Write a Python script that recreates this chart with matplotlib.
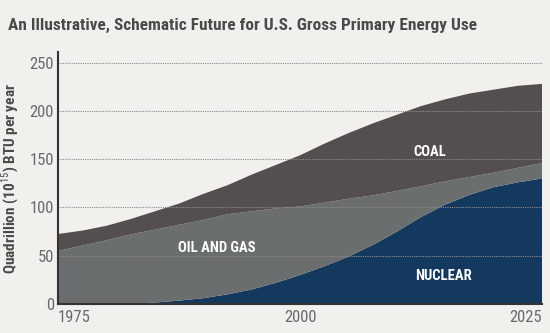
import matplotlib
matplotlib.use("Agg")
import matplotlib.pyplot as plt
from matplotlib import font_manager

years = [1975, 1977.5, 1980, 1982.5, 1985, 1987.5, 1990, 1992.5, 1995, 1997.5, 2000,
         2002.5, 2005, 2007.5, 2010, 2012.5, 2015, 2017.5, 2020, 2022.5, 2025]
nuclear = [0, 0, 0, 0, 1.5, 3.5, 6, 10, 15, 22, 30,
           39, 49, 61, 75, 90, 103, 113, 121, 126, 130]
oil_gas = [55, 60.5, 66, 72, 75.5, 78.5, 81, 83, 81, 77, 71,
           66, 60, 51.5, 42, 32, 24, 18.5, 15, 15, 16]
coal = [17.5, 15.5, 15, 16, 19, 22, 27, 30, 38, 45, 53,
        61, 68, 74.5, 79, 83, 85, 86.5, 86, 85, 82]

colors = ["#13395f", "#6b6e6e", "#544e50"]
y_ticks = [0, 50, 100, 150, 200, 250]
x_ticks = [1975, 2000, 2025]

title = "An Illustrative, Schematic Future for U.S. Gross Primary Energy Use"
ylabel = r"Quadrillion (10$^{15}$) BTU per year"

names = {f.name for f in font_manager.fontManager.ttflist}
main = "DejaVu Sans"
for cand in ["Roboto Condensed", "Archivo Narrow", "Asap Condensed", "Barlow Condensed"]:
    if cand in names:
        main = cand
        break
plt.rcParams["font.family"] = [main, "DejaVu Sans"]
plt.rcParams["mathtext.fontset"] = "custom"
plt.rcParams["mathtext.rm"] = main
plt.rcParams["mathtext.bf"] = main + ":bold"

bg = "#f2f0ed"
fig = plt.figure(figsize=(5.5, 3.33), dpi=100, facecolor=bg)
ax = fig.add_axes([0.1055, 0.0871, 0.88, 0.7567], facecolor=bg)

ax.stackplot(years, nuclear, oil_gas, coal, colors=colors, lw=0, zorder=1)

for t in y_ticks[1:]:
    ax.axhline(t, color="#8c8c8c", lw=0.8, ls=(0, (1, 1)), zorder=2)

ax.set_xlim(1975, 2025)
ax.set_ylim(0, 261)
ax.set_yticks(y_ticks)
ax.set_xticks(x_ticks)
ax.tick_params(axis="both", length=0, colors="#6a6a6a", labelsize=12)
ax.tick_params(axis="y", pad=3)
ax.tick_params(axis="x", pad=4)
labels = ax.get_xticklabels()
labels[0].set_ha("left")
labels[-1].set_ha("right")

for s in ["top", "right"]:
    ax.spines[s].set_visible(False)
for s in ["left", "bottom"]:
    ax.spines[s].set_color("#333333")
    ax.spines[s].set_linewidth(1.5)
    ax.spines[s].set_zorder(3)

ax.set_ylabel(ylabel, fontsize=11, fontweight="bold", color="#4a4a4a", labelpad=6)

lab = dict(color="white", fontsize=10.5, fontweight="bold", ha="center", va="center", zorder=4)
ax.text(2013.4, 157.7, "COAL", **lab)
ax.text(1991.4, 58, "OIL AND GAS", **lab)
ax.text(2014.8, 29, "NUCLEAR", **lab)

fig.text(8 / 550, 1 - 25 / 333, title, fontsize=12.4, fontweight="bold", color="#4a4a4a", ha="left", va="center")

fig.savefig("out.png", dpi=100, facecolor=bg)
